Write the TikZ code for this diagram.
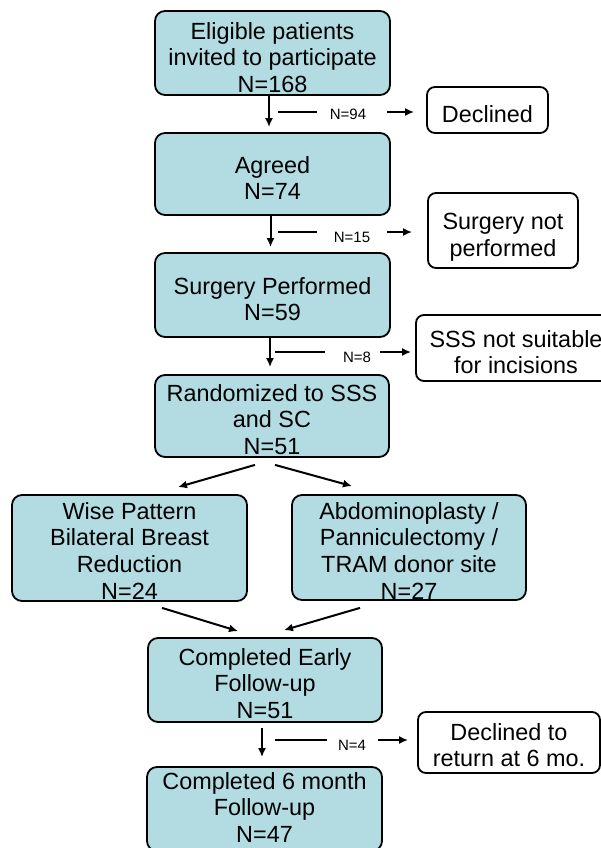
\documentclass[tikz,border=0pt]{standalone}
\usepackage{fontspec}
\setmainfont{Liberation Sans}
\usetikzlibrary{arrows.meta}
\definecolor{boxfill}{RGB}{178,220,226}
\newcommand{\bigtxt}{\fontsize{23.4bp}{26.8bp}\selectfont}
\newcommand{\smalltxt}{\fontsize{15bp}{16bp}\selectfont}
\begin{document}
\begin{tikzpicture}[x=1bp,y=-1bp,
  mainbox/.style={draw=black, fill=boxfill, line width=1.8bp, rounded corners=10bp, inner sep=0pt},
  sidebox/.style={draw=black, fill=white, line width=1.8bp, rounded corners=8bp, inner sep=0pt},
  txt/.style={anchor=north, inner sep=0pt, align=center, font=\bigtxt},
  lab/.style={inner sep=0pt, font=\smalltxt},
  arr/.style={line width=2bp, -{Latex[length=9bp,width=8bp]}},
  plainline/.style={line width=2bp}]
\useasboundingbox (0,0) rectangle (601,848);
\clip (0,0) rectangle (601,848);

% main boxes
\node[mainbox, minimum width=235bp, minimum height=84bp] (b1) at (272.5,53) {};
\node[mainbox, minimum width=235bp, minimum height=82bp] (b2) at (272.5,174) {};
\node[mainbox, minimum width=235bp, minimum height=84bp] (b3) at (272.5,295) {};
\node[mainbox, minimum width=234bp, minimum height=82bp] (b4) at (272,416) {};
\node[mainbox, minimum width=235bp, minimum height=106bp] (bw) at (129.5,548) {};
\node[mainbox, minimum width=234bp, minimum height=105bp] (ba) at (409,547.5) {};
\node[mainbox, minimum width=234bp, minimum height=84bp] (be) at (265,680) {};
\node[mainbox, minimum width=235bp, minimum height=84bp] (bf) at (264.5,809) {};

% side boxes
\node[sidebox, minimum width=121bp, minimum height=46bp] (d1) at (487.5,110) {};
\node[sidebox, minimum width=150bp, minimum height=75bp] (d2) at (503,230.5) {};
\node[sidebox, minimum width=200bp, minimum height=66bp] (d3) at (516,348) {};
\node[sidebox, minimum width=182bp, minimum height=61bp] (d4) at (509,742.5) {};

% texts
\node[txt] (t1) at (272.5,22) {Eligible patients\\invited to participate\\N=168};
\node[txt] (t2) at (272.5,156) {Agreed\\N=74};
\node[txt] (t3) at (272.5,277) {Surgery Performed\\N=59};
\node[txt] (t4) at (272,384) {Randomized to SSS\\and SC\\N=51};
\node[txt] (tw) at (129.5,502) {Wise Pattern\\Bilateral Breast\\Reduction\\N=24};
\node[txt] (ta) at (409,502) {Abdominoplasty /\\Panniculectomy /\\TRAM donor site\\N=27};
\node[txt] (te) at (265,648) {Completed Early\\Follow-up\\N=51};
\node[txt] (tf) at (264.5,772) {Completed 6 month\\Follow-up\\N=47};
\node[txt] (s1) at (487.5,105) {Declined};
\node[txt] (s2) at (503,213) {Surgery not\\performed};
\node[txt] (s3) at (516,330) {SSS not suitable\\for incisions};
\node[txt] (s4) at (509,723) {Declined to\\return at 6 mo.};

% vertical arrows
\draw[arr] ([shift={(-3.5,0)}]b1.south) -- ([shift={(-3.5,-5)}]b2.north);
\draw[arr] ([shift={(-2,0)}]b2.south) -- ([shift={(-2,-5)}]b3.north);
\draw[arr] ([shift={(-2.5,0)}]b3.south) -- ([shift={(-2,-7)}]b4.north);
\draw[arr] ([shift={(-3,5)}]be.south) -- ([shift={(-2.5,-9)}]bf.north);

% split and merge arrows
\draw[arr] ([shift={(-17,7)}]b4.south) -- ([shift={(48.5,-7)}]bw.north);
\draw[arr] ([shift={(3,7)}]b4.south) -- ([shift={(-57,-8)}]ba.north);
\draw[arr] ([shift={(32.5,6)}]bw.south) -- ([shift={(-27,-6)}]be.north);
\draw[arr] ([shift={(-49,7)}]ba.south) -- ([shift={(19,-7)}]be.north);

% side exits
\coordinate (c1) at (278,112);
\coordinate (c2) at (278,232);
\coordinate (c3) at (275,352);
\coordinate (c4) at (275,740);
\node[lab] (n1) at (348,114) {N=94};
\node[lab] (n2) at (352,237) {N=15};
\node[lab] (n3) at (357,357) {N=8};
\node[lab] (n4) at (352,745) {N=4};

\draw[plainline, shorten >=13bp] (c1) -- (c1 -| n1.west);
\draw[arr, shorten <=21bp, shorten >=12bp] (c1 -| n1.east) -- (c1 -| d1.west);
\draw[plainline, shorten >=17bp] (c2) -- (c2 -| n2.west);
\draw[arr, shorten <=17bp, shorten >=15bp] (c2 -| n2.east) -- (c2 -| d2.west);
\draw[plainline, shorten >=18bp] (c3) -- (c3 -| n3.west);
\draw[arr, shorten <=9bp, shorten >=4bp] (c3 -| n3.east) -- (c3 -| d3.west);
\draw[plainline, shorten >=11bp] (c4) -- (c4 -| n4.west);
\draw[arr, shorten <=12bp, shorten >=9bp] (c4 -| n4.east) -- (c4 -| d4.west);
\end{tikzpicture}
\end{document}
